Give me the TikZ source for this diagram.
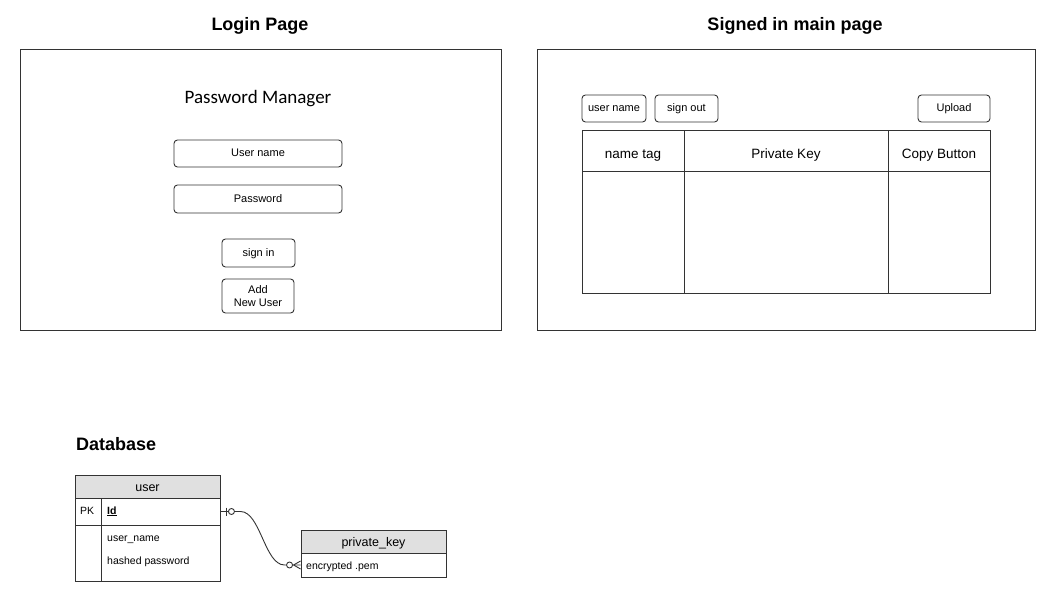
\documentclass[tikz,border=0pt]{standalone}
\usepackage{fontspec}
\setmainfont{Liberation Sans}
\newfontfamily\calib{Carlito}
\definecolor{ln}{HTML}{333333}
\definecolor{hdr}{HTML}{E0E0E0}
\begin{document}
\begin{tikzpicture}[x=1pt,y=-1pt,
  frame/.style={draw=ln,line width=1pt,inner sep=0pt},
  btnbase/.style={draw=ln,line width=0.9pt,rounded corners=3.5pt,inner sep=0pt,align=center,font=\fontsize{11}{12.5}\selectfont},
  btn/.style={btnbase,text height=8.3pt,text depth=1.7pt},
  cell/.style={draw=ln,line width=1pt,inner sep=0pt,font=\fontsize{13.5}{15}\selectfont,text height=16pt,text depth=2pt},
  ttl/.style={font=\fontsize{18}{20}\selectfont\bfseries,inner sep=0pt,anchor=base},
  ercell/.style={draw=ln,line width=0.9pt,inner sep=0pt},
  erhdr/.style={ercell,fill=hdr,font=\fontsize{12.5}{14}\selectfont,text height=11.5pt,text depth=1.8pt},
  ertxt/.style={inner sep=0pt,anchor=base west,font=\fontsize{10.5}{12}\selectfont},
  rel/.style={ln,line width=0.9pt}]
\useasboundingbox[fill=white] (0,0) rectangle (1057,601);
% titles
\node[ttl] (t1) at (260,31) {Login Page};
\node[ttl] (t2) at (795,31) {Signed in main page};
\node[ttl,anchor=base west] (t3) at (76,450.5) {Database};
% frames
\node[frame,minimum width=481,minimum height=281] (login) at (260.5,190.5) {};
\node[frame,minimum width=498,minimum height=281] (main) at (786,190.5) {};
% login page
\node[inner sep=0pt,anchor=base,font=\calib\fontsize{19}{21}\selectfont] (pm) at (258,104) {Password Manager};
\node[btn,minimum width=168,minimum height=27] (uname) at (258,153.5) {User name};
\node[btn,minimum width=168,minimum height=28] (pw) at (258,199) {Password};
\node[btn,minimum width=73,minimum height=28] (signin) at (258.5,253) {sign in};
\node[btnbase,minimum width=72,minimum height=34] (adduser) at (258,296) {Add\\New User};
% main page
\node[btn,minimum width=64,minimum height=27] (un) at (614,108.5) {user name};
\node[btn,minimum width=63,minimum height=27] (so) at (686.5,108.5) {sign out};
\node[btn,minimum width=72,minimum height=27] (up) at (954,108.5) {Upload};
\node[cell,minimum width=102,minimum height=41] (h1) at (633,151.5) {name tag};
\node[cell,minimum width=204,minimum height=41] (h2) at (786,151.5) {Private Key};
\node[cell,minimum width=102,minimum height=41] (h3) at (939,151.5) {Copy Button};
\node[cell,minimum width=102,minimum height=122] (b1) at (633,233) {};
\node[cell,minimum width=204,minimum height=122] (b2) at (786,233) {};
\node[cell,minimum width=102,minimum height=122] (b3) at (939,233) {};
% database: user
\node[erhdr,minimum width=145,minimum height=23] (uh) at (147.5,486.5) {user};
\node[ercell,minimum width=26,minimum height=27] (pk) at (88,511.5) {};
\node[ercell,minimum width=119,minimum height=27] (idrow) at (160.5,511.5) {};
\node[ercell,minimum width=26,minimum height=56] (blank) at (88,553) {};
\node[ercell,minimum width=119,minimum height=56] (attrs) at (160.5,553) {};
\node[ertxt] (pkt) at (80,514) {PK};
\node[ertxt,font=\fontsize{10.5}{12}\selectfont\bfseries] (idt) at (107,514) {\underline{Id}};
\node[ertxt] (unt) at (107,541) {user\_name};
\node[ertxt] (hpt) at (107,564.5) {hashed password};
% database: private_key
\node[erhdr,minimum width=145,minimum height=23] (kh) at (373.5,541.5) {private\_key};
\node[ercell,minimum width=145,minimum height=24] (enc) at (373.5,565) {};
\node[ertxt] (enct) at (306,569.5) {encrypted .pem};
% relationship
\draw[rel] (idrow.east) -- ++(20,0)
  .. controls ++(20,0) and ++(-20,0) .. ([xshift=-16pt]enc.west) -- (enc.west);
\draw[rel] ([xshift=6pt]idrow.east) ++(0,-4) -- ++(0,8);
\draw[rel,fill=white] ([xshift=11pt]idrow.east) circle (3pt);
\draw[rel,fill=white] ([xshift=-11pt]enc.west) circle (3pt);
\draw[rel] ([xshift=-7pt]enc.west) -- ([yshift=-4pt]enc.west)
  ([xshift=-7pt]enc.west) -- ([yshift=4pt]enc.west);
\end{tikzpicture}
\end{document}
